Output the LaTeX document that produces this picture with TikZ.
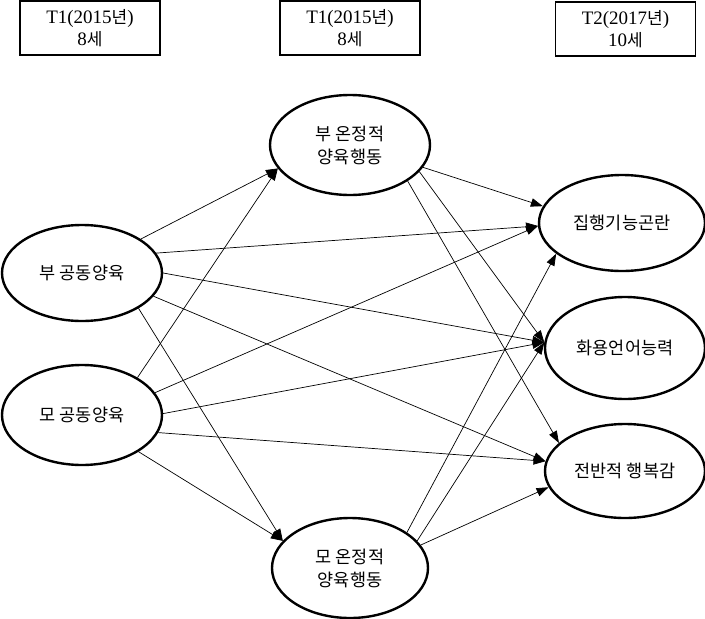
\documentclass[tikz,border=0pt]{standalone}
\usepackage{fontspec}
\setmainfont{Liberation Serif}
\newfontfamily\kr{Noto Sans CJK KR}
\usetikzlibrary{arrows.meta,shapes.geometric}
\begin{document}
\begin{tikzpicture}[x=1pt,y=-1pt,
  ell/.style={ellipse, draw, line width=2.4pt, inner sep=0pt, align=center,
    font=\kr\fontsize{17.5}{23}\selectfont},
  tbox/.style={rectangle, draw, line width=1.1pt, minimum width=140pt,
    minimum height=54pt, align=center, font=\fontsize{19}{22}\selectfont},
  arr/.style={line width=0.7pt, -{Triangle[length=12pt,width=8.5pt]}}]
\useasboundingbox (0,0) rectangle (705,619);
\fill[white] (0,0) rectangle (705,619);
% header boxes
\node[tbox] (t1) at (90,28) {T1(2015{\kr\fontsize{17}{22}\selectfont 년})\\8{\kr\fontsize{17}{22}\selectfont 세}};
\node[tbox] (t2) at (350,28) {T1(2015{\kr\fontsize{17}{22}\selectfont 년})\\8{\kr\fontsize{17}{22}\selectfont 세}};
\node[tbox] (t3) at (625.5,29) {T2(2017{\kr\fontsize{17}{22}\selectfont 년})\\10{\kr\fontsize{17}{22}\selectfont 세}};
% ellipses
\node[ell, minimum width=160pt, minimum height=96pt] (bg) at (82,273) {부 공동양육};
\node[ell, minimum width=160pt, minimum height=100pt] (mg) at (82,415) {모 공동양육};
\node[ell, minimum width=160pt, minimum height=100pt] (bw) at (350,145) {부 온정적\\양육행동};
\node[ell, minimum width=156pt, minimum height=100pt] (mw) at (350,568) {모 온정적\\양육행동};
\node[ell, minimum width=166pt, minimum height=96pt] (ef) at (622,223) {집행기능곤란};
\node[ell, minimum width=160pt, minimum height=102pt] (pl) at (625,348) {화용언어능력};
\node[ell, minimum width=160pt, minimum height=94pt] (wb) at (625,471) {전반적 행복감};
% paths
\draw[arr] (bg.30) -- (bw.198);
\draw[arr] (bg.15) -- (ef.182);
\draw[arr] (bg.0) -- (pl.176);
\draw[arr] (bg.342) -- (wb.173);
\draw[arr] (bg.328) -- (mw.158);
\draw[arr] (mg.34) -- (bw.198);
\draw[arr] (mg.17) -- (ef.182);
\draw[arr] (mg.1) -- (pl.176);
\draw[arr] (mg.347) -- (wb.173);
\draw[arr] (mg.327) -- (mw.158);
\draw[arr] (bw.343) -- (ef.168);
\draw[arr] (bw.339) -- (pl.176);
\draw[arr] (bw.328) -- (wb.157);
\draw[arr] (mw.32) -- (ef.205);
\draw[arr] (mw.22) -- (pl.176);
\draw[arr] (mw.18) -- (wb.192);
\end{tikzpicture}
\end{document}
